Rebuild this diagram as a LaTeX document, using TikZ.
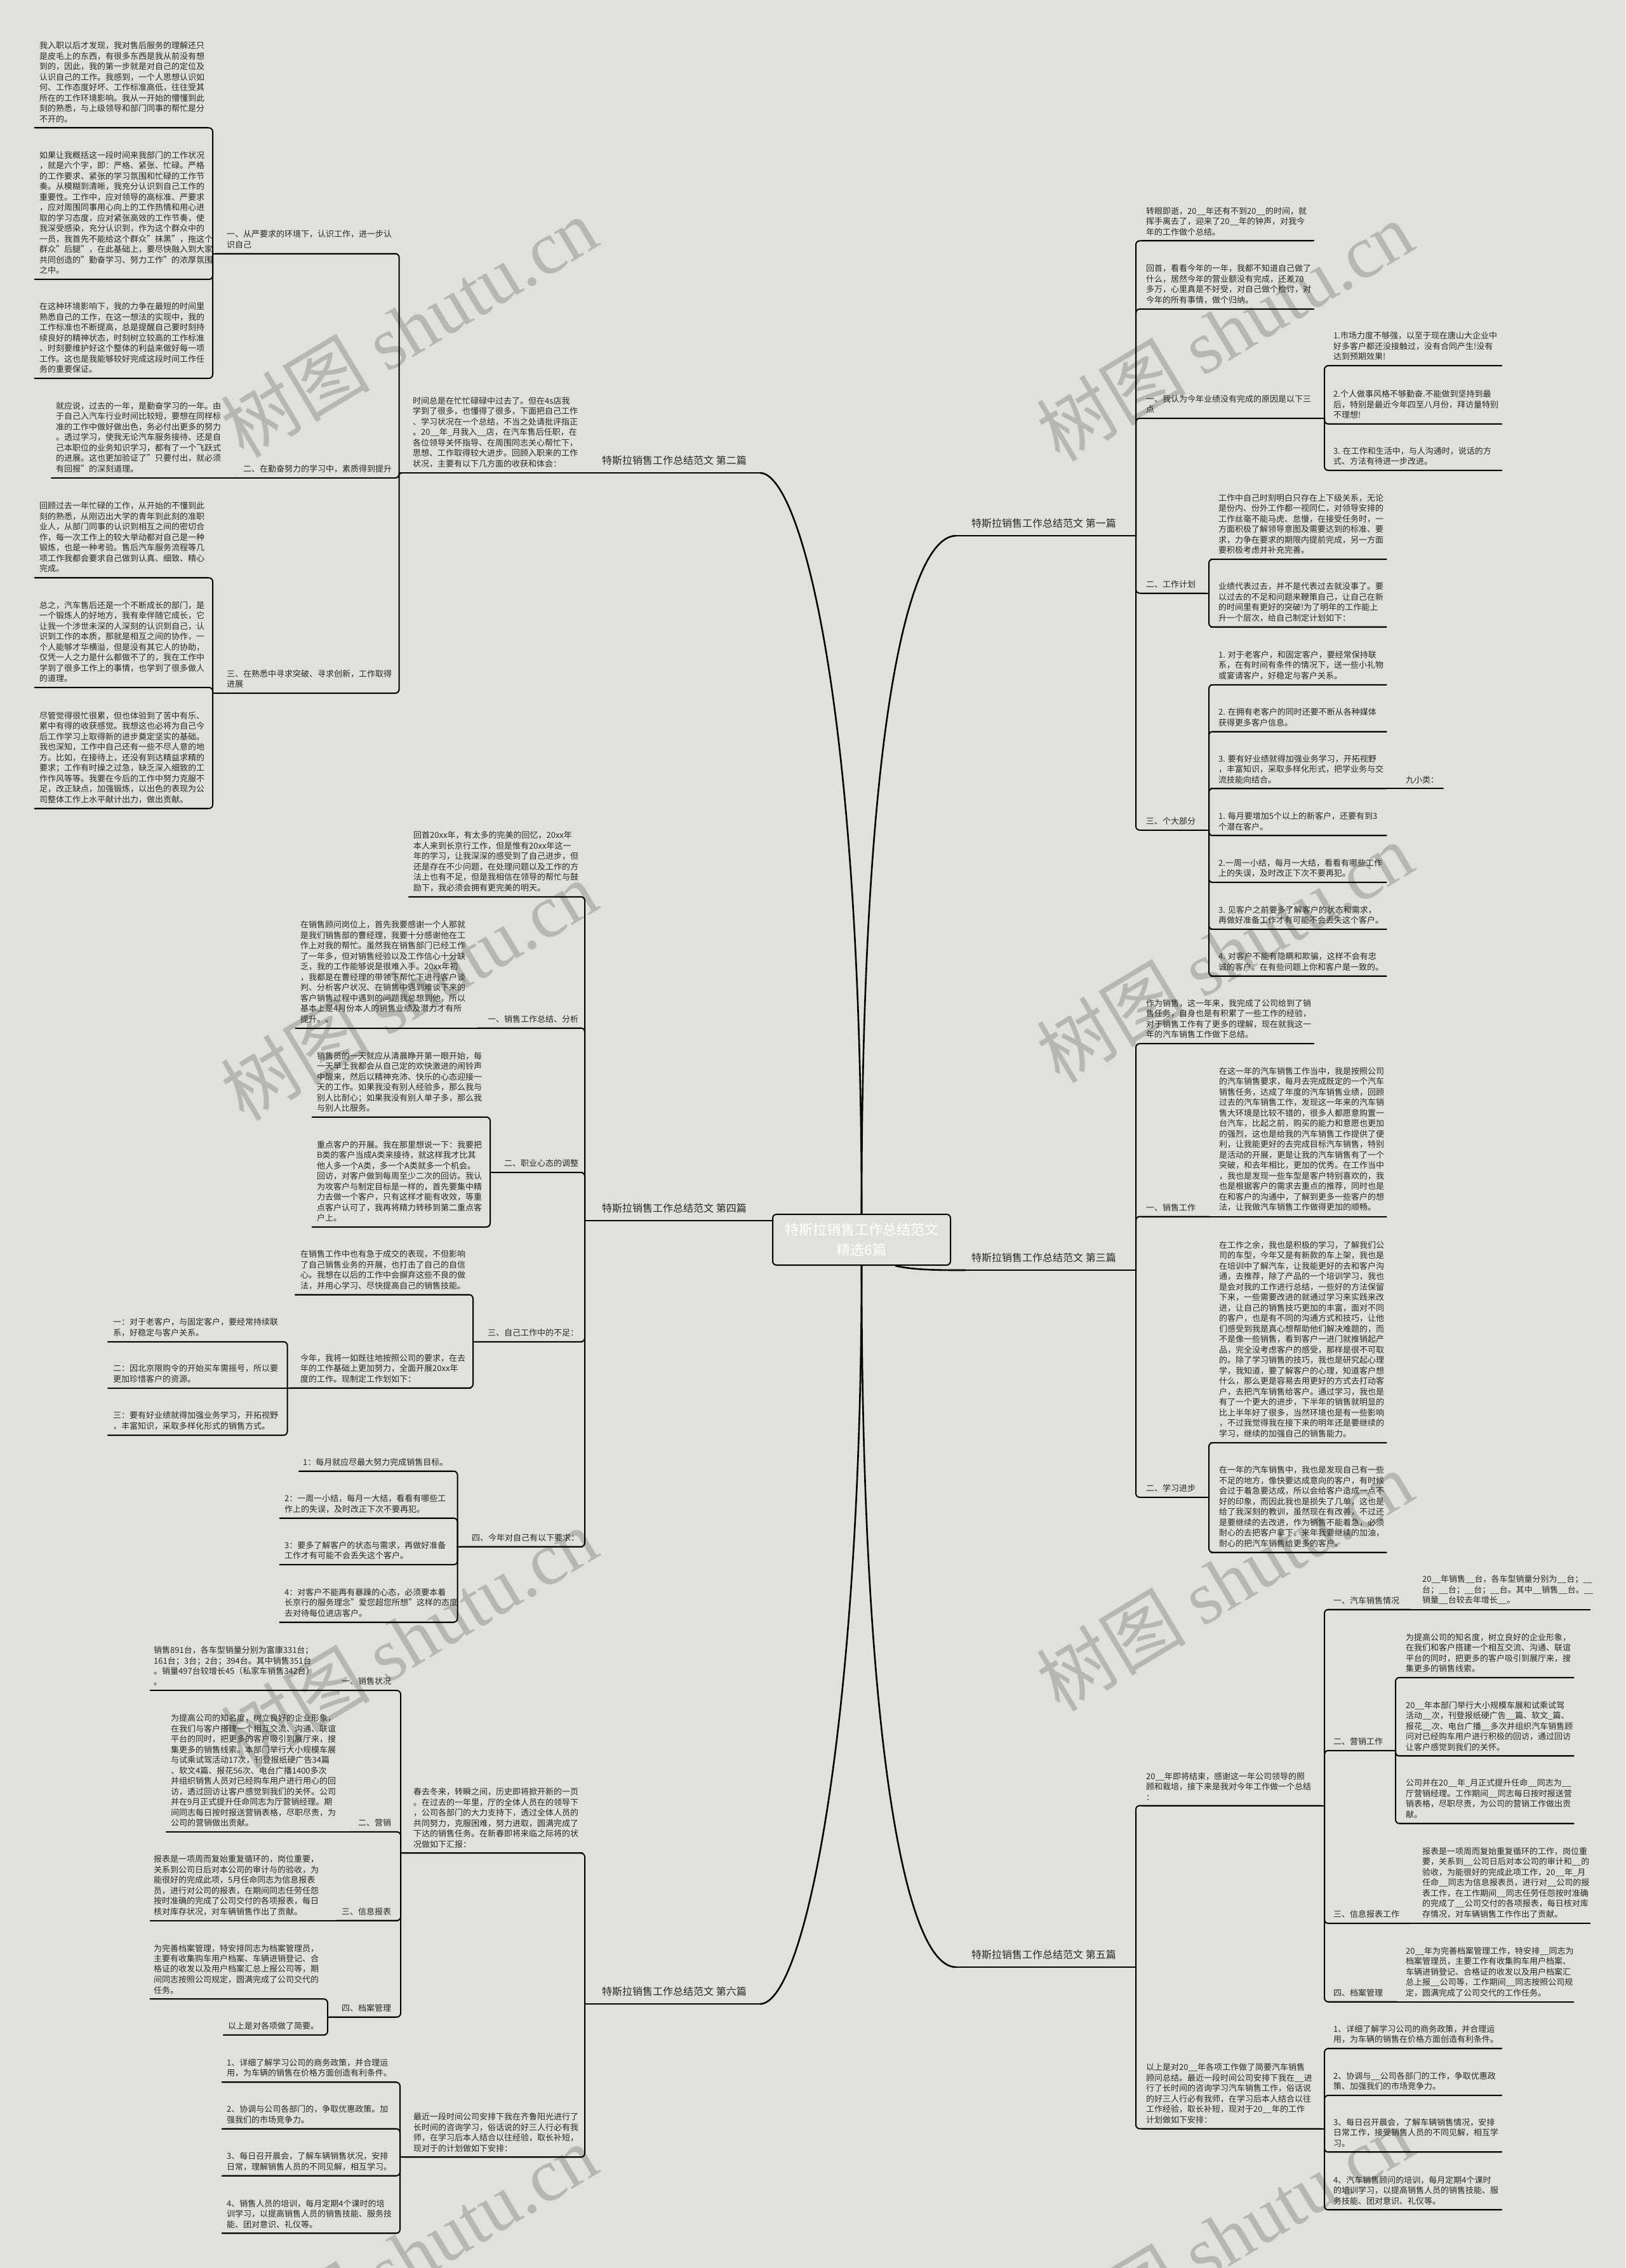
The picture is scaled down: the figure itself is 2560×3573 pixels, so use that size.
\documentclass[tikz,border=0pt]{standalone}
\usepackage{fontspec}
\setmainfont{Noto Sans CJK SC}
\newfontfamily\mmwmlat{Liberation Serif}
\definecolor{bgc}{RGB}{224,224,220}
\definecolor{txtc}{RGB}{40,40,40}
\definecolor{wmc}{RGB}{182,182,178}
\newcommand\mmfs{\fontsize{13pt}{16.5pt}\selectfont}
\newcommand\mmfsm{\fontsize{16pt}{20pt}\selectfont}
\newcommand\mmfsc{\fontsize{22pt}{32pt}\selectfont}
\newcommand\mmfsw{\fontsize{118pt}{118pt}\selectfont}
\tikzset{
  lnk/.style={line width=2pt, draw=black, line cap=round},
  mainln/.style={line width=2.6pt, draw=black},
  tx/.style={anchor=south west, inner sep=0pt, align=left, font=\mmfs, text=txtc},
  mtx/.style={anchor=south west, inner sep=0pt, align=left, font=\mmfsm, text=txtc},
  wm/.style={text=wmc, font=\mmfsw, rotate=31, inner sep=0pt},
  centerbox/.style={draw=black, line width=2pt, rounded corners=6pt, fill=bgc, minimum width=280pt, minimum height=80pt, text=white, font=\mmfsc, align=center}
}
% name, in-x, out-x, underline-y, text-x, text
\newcommand\mmnode[6]{%
  \coordinate (#1-in) at (#2,#4);
  \coordinate (#1-out) at (#3,#4);
  \draw[lnk] (#1-in) -- (#1-out);
  \node[tx] (#1) at (#5,#4-8) {#6};
}
\newcommand\mmmain[6]{%
  \coordinate (#1-in) at (#2,#4);
  \coordinate (#1-out) at (#3,#4);
  \draw[lnk] (#1-in) -- (#1-out);
  \node[mtx] (#1) at (#5,#4-12) {#6};
}
% parent, child, bracket offset
\newcommand\mmbr[3]{%
  \draw[lnk] (#1-out) -- ++(#3,0) coordinate (k#1#2);
  \draw[lnk, rounded corners=6pt] (k#1#2) -- (k#1#2 |- #2-out) -- (#2-out);
}
\newcommand\mmst[2]{\draw[lnk] (#1-out) -- (#2-in);}
\begin{document}
\begin{tikzpicture}[x=1pt,y=-1pt]
\fill[bgc] (0,0) rectangle (2560,3573);
\useasboundingbox (0,0) rectangle (2560,3573);
\clip (0,0) rectangle (2560,3573);
% watermarks
\node[wm] (w1) at (644,515) {树图 {\mmwmlat shutu.cn}};
\node[wm] (w2) at (1929,521) {树图 {\mmwmlat shutu.cn}};
\node[wm] (w3) at (644,1560) {树图 {\mmwmlat shutu.cn}};
\node[wm] (w4) at (1929,1500) {树图 {\mmwmlat shutu.cn}};
\node[wm] (w5) at (644,2580) {树图 {\mmwmlat shutu.cn}};
\node[wm] (w6) at (1929,2490) {树图 {\mmwmlat shutu.cn}};
\node[wm] (w7) at (644,3551) {树图 {\mmwmlat shutu.cn}};
\node[wm] (w8) at (1929,3523) {树图 {\mmwmlat shutu.cn}};

% center
\node[centerbox] (C) at (1357,1953) {特斯拉销售工作总结范文\\精选6篇};

% main branches
\mmmain{b1}{1506}{1786}{844}{1530}{特斯拉销售工作总结范文 第一篇}
\mmmain{b2}{1197}{929}{745}{948}{特斯拉销售工作总结范文 第二篇}
\mmmain{b3}{1521}{1786}{2001}{1530}{特斯拉销售工作总结范文 第三篇}
\mmmain{b4}{1197}{929}{1923}{948}{特斯拉销售工作总结范文 第四篇}
\mmmain{b5}{1506}{1786}{3099}{1530}{特斯拉销售工作总结范文 第五篇}
\mmmain{b6}{1197}{929}{3157}{948}{特斯拉销售工作总结范文 第六篇}

\draw[mainln] (C.north) .. controls (1357,1100) and (1260,745) .. (b2-in);
\draw[mainln] (C.north) .. controls (1357,1150) and (1430,844) .. (b1-in);
\draw[mainln] (C.west |- b4-in) -- (b4-in);
\draw[mainln] ([xshift=53pt]C.south) .. controls (1440,2001) and (1480,2001) .. (b3-in);
\draw[mainln] (C.south) .. controls (1357,2700) and (1420,3099) .. (b5-in);
\draw[mainln] (C.south) .. controls (1357,2700) and (1270,3157) .. (b6-in);

% ===== 第一篇 =====
\mmnode{r1a}{1798}{2069}{379.4}{1805}{转眼即逝，20\_\_年还有不到20\_\_的时间，就\\挥手离去了，迎来了20\_\_年的钟声，对我今\\年的工作做个总结。}
\mmnode{r1b}{1798}{2069}{486.9}{1805}{回首，看看今年的一年，我都不知道自己做了\\什么，居然今年的营业额没有完成，还差70\\多万，心里真是不好受，对自己做个检讨，对\\今年的所有事情，做个归纳。}
\mmnode{r1c}{1798}{2082}{659.1}{1805}{一、我认为今年业绩没有完成的原因是以下三\\点}
\mmnode{r1c1}{2091.5}{2365}{576.2}{2100}{1.市场力度不够强，以至于现在唐山大企业中\\好多客户都还没接触过，没有合同产生!没有\\达到预期效果!}
\mmnode{r1c2}{2091.5}{2365}{667.8}{2100}{2.个人做事风格不够勤奋.不能做到坚持到最\\后，特别是最近今年四至八月份，拜访量特别\\不理想!}
\mmnode{r1c3}{2091.5}{2365}{741}{2100}{3. 在工作和生活中，与人沟通时，说话的方\\式、方法有待进一步改进。}
\mmnode{r1d}{1798}{1900}{934.5}{1805}{二、工作计划}
\mmnode{r1d1}{1907}{2183.5}{881.1}{1919}{工作中自己时刻明白只存在上下级关系，无论\\是份内、份外工作都一视同仁，对领导安排的\\工作丝毫不能马虎、怠慢，在接受任务时，一\\方面积极了解领导意图及需要达到的标准、要\\求，力争在要求的期限内提前完成，另一方面\\要积极考虑并补充完善。}
\mmnode{r1d2}{1907}{2183.5}{987.7}{1919}{业绩代表过去，并不是代表过去就没事了。要\\以过去的不足和问题来鞭策自己，让自己在新\\的时间里有更好的突破!为了明年的工作能上\\升一个层次，给自己制定计划如下：}
\mmnode{r1e}{1798}{1900}{1307.8}{1805}{三、个大部分}
\mmnode{r1e1}{1907}{2183.5}{1078.8}{1919}{1. 对于老客户，和固定客户，要经常保持联\\系，在有时间有条件的情况下，送一些小礼物\\或宴请客户，好稳定与客户关系。}
\mmnode{r1e2}{1907}{2183.5}{1152.5}{1919}{2. 在拥有老客户的同时还要不断从各种媒体\\获得更多客户信息。}
\mmnode{r1e3}{1907}{2183.5}{1242.3}{1919}{3. 要有好业绩就得加强业务学习，开拓视野\\，丰富知识，采取多样化形式，把学业务与交\\流技能向结合。}
\mmnode{r1e3x}{2183.5}{2273}{1242.3}{2214}{九小类：}
\mmnode{r1e4}{1907}{2183.5}{1316.4}{1919}{1. 每月要增加5个以上的新客户，还要有到3\\个潜在客户。}
\mmnode{r1e5}{1907}{2183.5}{1390.2}{1919}{2.一周一小结，每月一大结，看看有哪些工作\\上的失误，及时改正下次不要再犯。}
\mmnode{r1e6}{1907}{2183.5}{1463.9}{1919}{3. 见客户之前要多了解客户的状态和需求，\\再做好准备工作才有可能不会丢失这个客户。}
\mmnode{r1e7}{1907}{2183.5}{1537.6}{1919}{4. 对客户不能有隐瞒和欺骗，这样不会有忠\\诚的客户。在有些问题上你和客户是一致的。}
\mmbr{b1}{r1a}{3}
\mmbr{b1}{r1b}{3}
\mmbr{b1}{r1c}{3}
\mmbr{b1}{r1d}{3}
\mmbr{b1}{r1e}{3}
\mmbr{r1c}{r1c1}{4}
\mmbr{r1c}{r1c2}{4}
\mmbr{r1c}{r1c3}{4}
\mmbr{r1d}{r1d1}{4}
\mmbr{r1d}{r1d2}{4}
\mmbr{r1e}{r1e1}{4}
\mmbr{r1e}{r1e2}{4}
\mmbr{r1e}{r1e3}{4}
\mmbr{r1e}{r1e4}{4}
\mmbr{r1e}{r1e5}{4}
\mmbr{r1e}{r1e6}{4}
\mmbr{r1e}{r1e7}{4}
\mmst{r1e3}{r1e3x}

% ===== 第三篇 =====
\mmnode{r3a}{1798}{2069}{1644.2}{1805}{作为销售，这一年来，我完成了公司给到了销\\售任务，自身也是有积累了一些工作的经验，\\对于销售工作有了更多的理解，现在就我这一\\年的汽车销售工作做下总结。}
\mmnode{r3b}{1798}{1904}{1916.5}{1805}{一、销售工作}
\mmnode{r3b1}{1904}{2183.5}{1916.5}{1920}{在这一年的汽车销售工作当中，我是按照公司\\的汽车销售要求，每月去完成既定的一个汽车\\销售任务，达成了年度的汽车销售业绩，回顾\\过去的汽车销售工作，发现这一年来的汽车销\\售大环境是比较不错的，很多人都愿意购置一\\台汽车，比起之前，购买的能力和意愿也更加\\的强烈，这也是给我的汽车销售工作提供了便\\利，让我能更好的去完成目标汽车销售，特别\\是活动的开展，更是让我的汽车销售有了一个\\突破，和去年相比，更加的优秀。在工作当中\\，我也是发现一些车型是客户特别喜欢的，我\\也是根据客户的需求去重点的推荐，同时也是\\在和客户的沟通中，了解到更多一些客户的想\\法，让我做汽车销售工作做得更加的顺畅。}
\mmnode{r3c}{1798}{1900}{2358.8}{1805}{二、学习进步}
\mmnode{r3c1}{1907}{2183.5}{2272.9}{1920}{在工作之余，我也是积极的学习，了解我们公\\司的车型，今年又是有新款的车上架，我也是\\在培训中了解汽车，让我能更好的去和客户沟\\通，去推荐，除了产品的一个培训学习，我也\\是会对我的工作进行总结，一些好的方法保留\\下来，一些需要改进的就通过学习来实践来改\\进，让自己的销售技巧更加的丰富，面对不同\\的客户，也是有不同的沟通方式和技巧，让他\\们感受到我是真心想帮助他们解决难题的，而\\不是像一些销售，看到客户一进门就推销起产\\品，完全没考虑客户的感受，那样是很不可取\\的。除了学习销售的技巧，我也是研究起心理\\学，我知道，要了解客户的心理，知道客户想\\什么，那么更是容易去用更好的方式去打动客\\户，去把汽车销售给客户。通过学习，我也是\\有了一个更大的进步，下半年的销售就明显的\\比上半年好了很多，当然环境也是有一些影响\\，不过我觉得我在接下来的明年还是要继续的\\学习，继续的加强自己的销售能力。}
\mmnode{r3c2}{1907}{2183.5}{2445.5}{1920}{在一年的汽车销售中，我也是发现自己有一些\\不足的地方，像快要达成意向的客户，有时候\\会过于着急要达成，所以会给客户造成一点不\\好的印象，而因此我也是损失了几单，这也是\\给了我深刻的教训，虽然现在有改善，不过还\\是要继续的去改进，作为销售不能着急，必须\\耐心的去把客户拿下。来年我要继续的加油，\\耐心的把汽车销售给更多的客户。}
\mmbr{b3}{r3a}{3}
\mmbr{b3}{r3b}{3}
\mmbr{b3}{r3c}{3}
\mmst{r3b}{r3b1}
\mmbr{r3c}{r3c1}{4}
\mmbr{r3c}{r3c2}{4}

% ===== 第五篇 =====
\mmnode{r5a}{1798}{2082}{2844.5}{1805}{20\_\_年即将结束，感谢这一年公司领导的照\\顾和栽培，接下来是我对今年工作做一个总结\\：}
\mmnode{r5a1}{2091.5}{2222}{2535.7}{2100}{一、汽车销售情况}
\mmnode{r5a1a}{2222}{2504.4}{2535.7}{2240}{20\_\_年销售\_\_台，各车型销量分别为\_\_台；\_\_\\台；\_\_台；\_\_台；\_\_台。其中\_\_销售\_\_台。\_\_\\销量\_\_台较去年增长\_\_。}
\mmnode{r5a2}{2091.5}{2195}{2757.8}{2100}{二、营销工作}
\mmnode{r5a2a}{2204.7}{2478.5}{2642.8}{2214}{为提高公司的知名度，树立良好的企业形象，\\在我们和客户搭建一个相互交流、沟通、联谊\\平台的同时，把更多的客户吸引到展厅来，搜\\集更多的销售线索。}
\mmnode{r5a2b}{2204.7}{2478.5}{2766.4}{2214}{20\_\_年本部门举行大小规模车展和试乘试驾\\活动\_\_次，刊登报纸硬广告\_\_篇、软文\_篇、\\报花\_\_次、电台广播\_\_多次并组织汽车销售顾\\问对已经购车用户进行积极的回访，通过回访\\让客户感觉到我们的关怀。}
\mmnode{r5a2c}{2204.7}{2478.5}{2872.7}{2214}{公司并在20\_\_年\_月正式提升任命\_\_同志为\_\_\\厅营销经理。工作期间\_\_同志每日按时报送营\\销表格，尽职尽责，为公司的营销工作做出贡\\献。}
\mmnode{r5a3}{2091.5}{2222}{3030}{2100}{三、信息报表工作}
\mmnode{r5a3a}{2222}{2504.4}{3030}{2240}{报表是一项周而复始重复循环的工作，岗位重\\要，关系到\_\_公司日后对本公司的审计和\_\_的\\验收，为能很好的完成此项工作，20\_\_年\_月\\任命\_\_同志为信息报表员，进行对\_\_公司的报\\表工作，在工作期间\_\_同志任劳任怨按时准确\\的完成了\_\_公司交付的各项报表，每日核对库\\存情况，对车辆销售工作作出了贡献。}
\mmnode{r5a4}{2091.5}{2200}{3153.6}{2100}{四、档案管理}
\mmnode{r5a4a}{2200}{2478.5}{3153.6}{2214}{20\_\_年为完善档案管理工作，特安排\_\_同志为\\档案管理员，主要工作有收集购车用户档案、\\车辆进销登记、合格证的收发以及用户档案汇\\总上报\_\_公司等，工作期间\_\_同志按照公司规\\定，圆满完成了公司交代的工作任务。}
\mmnode{r5b}{1798}{2082}{3353.5}{1805}{以上是对20\_\_年各项工作做了简要汽车销售\\顾问总结。最近一段时间公司安排下我在\_\_进\\行了长时间的咨询学习汽车销售工作，俗话说\\的好三人行必有我师，在学习后本人结合以往\\工作经验，取长补短，现对于20\_\_年的工作\\计划做如下安排：}
\mmnode{r5b1}{2091.5}{2365}{3227.3}{2100}{1、详细了解学习公司的商务政策，并合理运\\用，为车辆的销售在价格方面创造有利条件。}
\mmnode{r5b2}{2091.5}{2365}{3301}{2100}{2、协调与\_\_公司各部门的工作，争取优惠政\\策、加强我们的市场竞争力。}
\mmnode{r5b3}{2091.5}{2365}{3390.4}{2100}{3、每日召开晨会，了解车辆销售情况，安排\\日常工作，接受销售人员的不同见解，相互学\\习。}
\mmnode{r5b4}{2091.5}{2365}{3481.4}{2100}{4、汽车销售顾问的培训，每月定期4个课时\\的培训学习，以提高销售人员的销售技能、服\\务技能、团对意识、礼仪等。}
\mmbr{b5}{r5a}{3}
\mmbr{b5}{r5b}{3}
\mmbr{r5a}{r5a1}{4}
\mmbr{r5a}{r5a2}{4}
\mmbr{r5a}{r5a3}{4}
\mmbr{r5a}{r5a4}{4}
\mmst{r5a1}{r5a1a}
\mmbr{r5a2}{r5a2a}{3}
\mmbr{r5a2}{r5a2b}{3}
\mmbr{r5a2}{r5a2c}{3}
\mmst{r5a3}{r5a3a}
\mmst{r5a4}{r5a4a}
\mmbr{r5b}{r5b1}{4}
\mmbr{r5b}{r5b2}{4}
\mmbr{r5b}{r5b3}{4}
\mmbr{r5b}{r5b4}{4}

% ===== 第二篇 =====
\mmnode{l2}{917}{632.6}{745}{650}{时间总是在忙忙碌碌中过去了。但在4s店我\\学到了很多，也懂得了很多，下面把自己工作\\、学习状况在一个总结，不当之处请批评指正\\。20\_\_年\_月我入\_\_店，在汽车售后任职，在\\各位领导关怀指导、在周围同志关心帮忙下，\\思想、工作取得较大进步。回顾入职来的工作\\状况，主要有以下几方面的收获和体会：}
\mmst{b2}{l2}
\mmnode{l2a}{624}{339}{399.6}{357}{一、从严要求的环境下，认识工作，进一步认\\识自己}
\mmnode{l2a1}{327.5}{54.7}{201.4}{62}{我入职以后才发现，我对售后服务的理解还只\\是皮毛上的东西，有很多东西是我从前没有想\\到的，因此，我的第一步就是对自己的定位及\\认识自己的工作。我感到，一个人思想认识如\\何、工作态度好坏、工作标准高低，往往受其\\所在的工作环境影响。我从一开始的懵懂到此\\刻的熟悉，与上级领导和部门同事的帮忙是分\\不开的。}
\mmnode{l2a2}{327.5}{54.7}{440.2}{62}{如果让我概括这一段时间来我部门的工作状况\\，就是六个字，即：严格、紧张、忙碌。严格\\的工作要求、紧张的学习氛围和忙碌的工作节\\奏。从模糊到清晰，我充分认识到自己工作的\\重要性。工作中，应对领导的高标准、严要求\\，应对周围同事用心向上的工作热情和用心进\\取的学习态度，应对紧张高效的工作节奏，使\\我深受感染，充分认识到，作为这个群众中的\\一员，我首先不能给这个群众"抹黑"，拖这个\\群众"后腿"，在此基础上，要尽快融入到大家\\共同创造的"勤奋学习、努力工作"的浓厚氛围\\之中。}
\mmnode{l2a3}{327.5}{54.7}{596}{62}{在这种环境影响下，我的力争在最短的时间里\\熟悉自己的工作，在这一想法的实现中，我的\\工作标准也不断提高，总是提醒自己要时刻持\\续良好的精神状态，时刻树立较高的工作标准\\、时刻要维护好这个整体的利益来做好每一项\\工作。这也是我能够较好完成这段时间工作任\\务的重要保证。}
\mmnode{l2b}{624}{372}{752.6}{383}{二、在勤奋努力的学习中，素质得到提升}
\mmnode{l2b1}{372}{81}{752.6}{88}{就应说，过去的一年，是勤奋学习的一年。由\\于自己入汽车行业时间比较短，要想在同样标\\准的工作中做好做出色，务必付出更多的努力\\。透过学习，使我无论汽车服务接待、还是自\\己本职位的业务知识学习，都有了一个飞跃式\\的进展。这也更加验证了"只要付出，就必须\\有回报"的深刻道理。}
\mmnode{l2c}{624}{339}{1092}{357}{三、在熟悉中寻求突破、寻求创新，工作取得\\进展}
\mmnode{l2c1}{327.5}{54.7}{910.3}{62}{回顾过去一年忙碌的工作，从开始的不懂到此\\刻的熟悉，从刚迈出大学的青年到此刻的准职\\业人，从部门同事的认识到相互之间的密切合\\作，每一次工作上的较大举动都对自己是一种\\锻炼，也是一种考验。售后汽车服务流程等几\\项工作我都会要求自己做到认真、细致、精心\\完成。}
\mmnode{l2c2}{327.5}{54.7}{1083}{62}{总之，汽车售后还是一个不断成长的部门，是\\一个锻炼人的好地方，我有幸伴随它成长，它\\让我一个涉世未深的人深刻的认识到自己，认\\识到工作的本质，那就是相互之间的协作，一\\个人能够才华横溢，但是没有其它人的协助，\\仅凭一人之力是什么都做不了的，我在工作中\\学到了很多工作上的事情，也学到了很多做人\\的道理。}
\mmnode{l2c3}{327.5}{54.7}{1273.7}{62}{尽管觉得很忙很累，但也体验到了苦中有乐、\\累中有得的收获感觉。我想这也必将为自己今\\后工作学习上取得新的进步奠定坚实的基础。\\我也深知，工作中自己还有一些不尽人意的地\\方。比如，在接待上，还没有到达精益求精的\\要求；工作有时操之过急，缺乏深入细致的工\\作作风等等。我要在今后的工作中努力克服不\\足，改正缺点，加强锻炼，以出色的表现为公\\司整体工作上水平献计出力，做出贡献。}
\mmbr{l2}{l2a}{-4}
\mmbr{l2}{l2c}{-4}
\draw[lnk] (l2-out) .. controls (627,745) and (629,752.6) .. (l2b-in);
\mmst{l2b}{l2b1}
\mmbr{l2a}{l2a1}{-4}
\mmbr{l2a}{l2a2}{-4}
\mmbr{l2a}{l2a3}{-4}
\mmbr{l2c}{l2c1}{-4}
\mmbr{l2c}{l2c2}{-4}
\mmbr{l2c}{l2c3}{-4}

% ===== 第四篇 =====
\mmnode{l4a}{917}{644}{1412.9}{651}{回首20xx年，有太多的完美的回忆，20xx年\\本人来到长京行工作，但是惟有20xx年这一\\年的学习，让我深深的感受到了自己进步，但\\还是存在不少问题，在处理问题以及工作的方\\法上也有不足，但是我相信在领导的帮忙与鼓\\励下，我必须会拥有更完美的明天。}
\mmnode{l4b}{917}{752}{1619.6}{768}{一、销售工作总结、分析}
\mmnode{l4b1}{752}{465.4}{1619.6}{473}{在销售顾问岗位上，首先我要感谢一个人那就\\是我们销售部的曹经理，我要十分感谢他在工\\作上对我的帮忙。虽然我在销售部门已经工作\\了一年多，但对销售经验以及工作信心十分缺\\乏，我的工作能够说是很难入手。20xx年初\\，我都是在曹经理的带领下帮忙下进行客户谈\\判、分析客户状况、在销售中遇到难谈下来的\\客户销售过程中遇到的问题我总想到他，所以\\基本上是4月份本人的销售业绩及潜力才有所\\提升。。}
\mmnode{l4c}{917}{776}{1847.1}{794}{二、职业心态的调整}
\mmnode{l4c1}{767.6}{491.8}{1759.8}{499}{销售员的一天就应从清晨睁开第一眼开始，每\\一天早上我都会从自己定的欢快激进的闹铃声\\中醒来，然后以精神充沛、快乐的心态迎接一\\天的工作。如果我没有别人经验多，那么我与\\别人比耐心；如果我没有别人单子多，那么我\\与别人比服务。}
\mmnode{l4c2}{767.6}{491.8}{1933}{499}{重点客户的开展。我在那里想说一下：我要把\\B类的客户当成A类来接待，就这样我才比其\\他人多一个A类，多一个A类就多一个机会。\\回访，对客户做到每周至少二次的回访。我认\\为攻客户与制定目标是一样的，首先要集中精\\力去做一个客户，只有这样才能有收效，等重\\点客户认可了，我再将精力转移到第二重点客\\户上。}
\mmnode{l4d}{917}{750}{2113.8}{768}{三、自己工作中的不足：}
\mmnode{l4d1}{741}{465}{2039.7}{473}{在销售工作中也有急于成交的表现，不但影响\\了自己销售业务的开展，也打击了自己的自信\\心。我想在以后的工作中会摒弃这些不良的做\\法，并用心学习、尽快提高自己的销售技能。}
\mmnode{l4d2}{741}{456.6}{2186.5}{473}{今年，我将一如既往地按照公司的要求，在去\\年的工作基础上更加努力，全面开展20xx年\\度的工作。现制定工作划如下：}
\mmnode{l4d2a}{445}{170}{2113.8}{178}{一：对于老客户，与固定客户，要经常持续联\\系，好稳定与客户关系。}
\mmnode{l4d2b}{445}{170}{2186.5}{178}{二：因北京限购令的开始买车需摇号，所以要\\更加珍惜客户的资源。}
\mmnode{l4d2c}{445}{170}{2261}{178}{三：要有好业绩就得加强业务学习，开拓视野\\，丰富知识，采取多样化形式的销售方式。}
\mmnode{l4e}{917}{723.6}{2436.6}{743}{四、今年对自己有以下要求：}
\mmnode{l4e1}{712}{471}{2317.7}{477}{1：每月就应尽最大努力完成销售目标。}
\mmnode{l4e2}{714.8}{440.7}{2391.7}{448}{2：一周一小结，每月一大结，看看有哪些工\\作上的失误，及时改正下次不要再犯。}
\mmnode{l4e3}{714.8}{440.7}{2464.9}{448}{3：要多了解客户的状态与需求，再做好准备\\工作才有可能不会丢失这个客户。}
\mmnode{l4e4}{714.8}{440.7}{2555.5}{448}{4：对客户不能再有暴躁的心态，必须要本着\\长京行的服务理念"爱您超您所想"这样的态度\\去对待每位进店客户。}
\mmbr{b4}{l4a}{-8}
\mmbr{b4}{l4b}{-8}
\mmbr{b4}{l4c}{-8}
\mmbr{b4}{l4d}{-8}
\mmbr{b4}{l4e}{-8}
\mmst{l4b}{l4b1}
\mmbr{l4c}{l4c1}{-4}
\mmbr{l4c}{l4c2}{-4}
\mmbr{l4d}{l4d1}{-5}
\mmbr{l4d}{l4d2}{-5}
\mmbr{l4d2}{l4d2a}{-4}
\mmst{l4d2}{l4d2b}
\mmbr{l4d2}{l4d2c}{-4}
\mmbr{l4e}{l4e1}{-3}
\mmbr{l4e}{l4e2}{-3}
\mmbr{l4e}{l4e3}{-3}
\mmbr{l4e}{l4e4}{-3}

% ===== 第六篇 =====
\mmnode{l6a}{917}{634}{2919.4}{651}{春去冬来，转瞬之间，历史即将掀开新的一页\\。在过去的一年里，厅的全体人员在的领导下\\，公司各部门的大力支持下，透过全体人员的\\共同努力，克服困难，努力进取，圆满完成了\\下达的销售任务。在新春即将来临之际将的状\\况做如下汇报：}
\mmnode{l6a1}{624}{530}{2663.1}{538}{一、销售状况}
\mmnode{l6a1a}{530}{236.6}{2663.1}{242}{销售891台，各车型销量分别为富康331台；\\161台；3台；2台；394台。其中销售351台\\。销量497台较增长45（私家车销售342台）\\。}
\mmnode{l6a2}{626.7}{552}{2885.9}{564}{二、营销}
\mmnode{l6a2a}{552}{261.8}{2885.9}{269}{为提高公司的知名度，树立良好的企业形象，\\在我们与客户搭建一个相互交流、沟通、联谊\\平台的同时，把更多的客户吸引到展厅来，搜\\集更多的销售线索。本部门举行大小规模车展\\与试乘试驾活动17次，刊登报纸硬广告34篇\\、软文4篇、报花56次、电台广播1400多次\\并组织销售人员对已经购车用户进行用心的回\\访，透过回访让客户感觉到我们的关怀。公司\\并在9月正式提升任命同志为厅营销经理。期\\间同志每日按时报送营销表格，尽职尽责，为\\公司的营销做出贡献。}
\mmnode{l6a3}{626.7}{530}{3025.6}{538}{三、信息报表}
\mmnode{l6a3a}{530}{236.6}{3025.6}{242}{报表是一项周而复始重复循环的，岗位重要，\\关系到公司日后对本公司的审计与的验收，为\\能很好的完成此项，5月任命同志为信息报表\\员，进行对公司的报表，在期间同志任劳任怨\\按时准确的完成了公司交付的各项报表，每日\\核对库存状况，对车辆销售作出了贡献。}
\mmnode{l6a4}{624}{518}{3177.6}{538}{四、档案管理}
\mmnode{l6a4a}{509.4}{236.6}{3149.2}{242}{为完善档案管理，特安排同志为档案管理员，\\主要有收集购车用户档案、车辆进销登记、合\\格证的收发以及用户档案汇总上报公司等，期\\间同志按照公司规定，圆满完成了公司交代的\\任务。}
\mmnode{l6a4b}{512}{352}{3205.9}{359}{以上是对各项做了简要。}
\mmnode{l6b}{917}{634}{3398.4}{651}{最近一段时间公司安排下我在齐鲁阳光进行了\\长时间的咨询学习，俗话说的好三人行必有我\\师，在学习后本人结合以往经验，取长补短，\\现对于的计划做如下安排：}
\mmnode{l6b1}{624}{349.8}{3280.4}{357}{1、详细了解学习公司的商务政策，并合理运\\用，为车辆的销售在价格方面创造有利条件。}
\mmnode{l6b2}{624}{349.8}{3353.6}{357}{2、协调与公司各部门的，争取优惠政策。加\\强我们的市场竞争力。}
\mmnode{l6b3}{624}{349.8}{3427.7}{357}{3、每日召开晨会，了解车辆销售状况，安排\\日常，理解销售人员的不同见解，相互学习。}
\mmnode{l6b4}{624}{349.8}{3518.3}{357}{4、销售人员的培训，每月定期4个课时的培\\训学习，以提高销售人员的销售技能、服务技\\能、团对意识、礼仪等。}
\mmbr{b6}{l6a}{-8}
\mmbr{b6}{l6b}{-8}
\mmbr{l6a}{l6a1}{-3}
\mmbr{l6a}{l6a2}{-3}
\mmbr{l6a}{l6a3}{-3}
\mmbr{l6a}{l6a4}{-3}
\mmst{l6a1}{l6a1a}
\mmst{l6a2}{l6a2a}
\mmst{l6a3}{l6a3a}
\mmbr{l6a4}{l6a4a}{-2}
\mmbr{l6a4}{l6a4b}{-2}
\mmbr{l6b}{l6b1}{-4}
\mmbr{l6b}{l6b2}{-4}
\mmbr{l6b}{l6b3}{-4}
\mmbr{l6b}{l6b4}{-4}
\end{tikzpicture}
\end{document}
